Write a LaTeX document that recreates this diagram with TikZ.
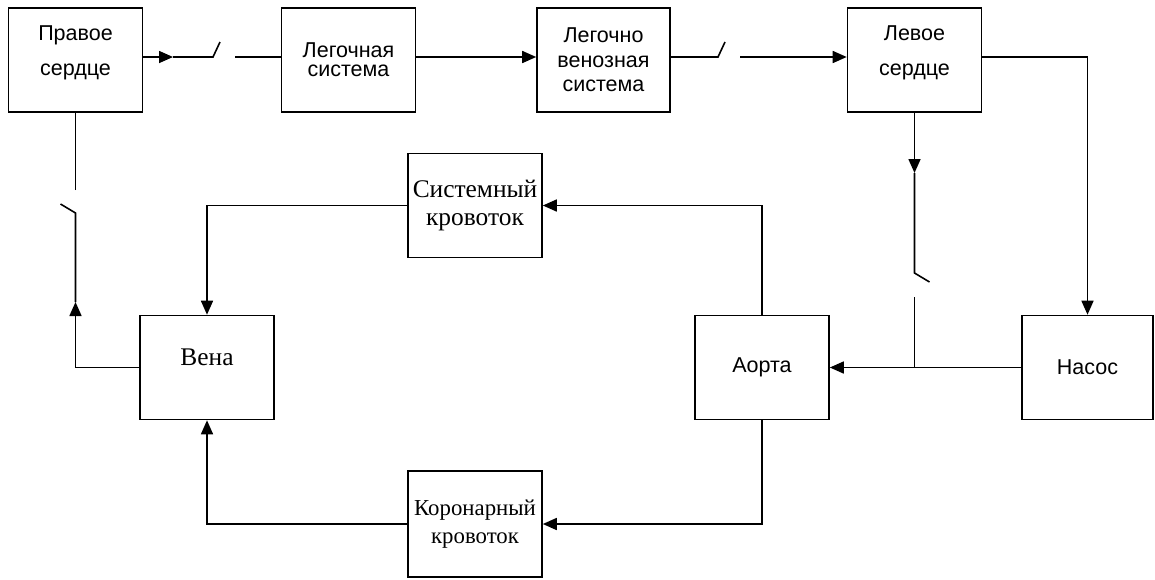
\documentclass[tikz,border=0pt]{standalone}
\usepackage{fontspec}
\setmainfont{Liberation Serif}
\newfontfamily\arialf{Liberation Sans}
\usetikzlibrary{arrows.meta}

\tikzset{
  block/.style={draw, line width=0.8pt, minimum width=67pt, minimum height=52pt,
    inner sep=1pt, align=center},
  sanstext/.style={font=\arialf\fontsize{10.75}{12.5}\selectfont},
  seriftext/.style={font=\fontsize{12.7}{14}\selectfont},
  flow/.style={-{Triangle[length=7pt,width=6pt]}},
  wire/.style={line width=0.8pt}
}

\begin{document}
\begin{tikzpicture}[x=0.5pt,y=-0.5pt]
  \useasboundingbox (0,0) rectangle (1155,579);

  \node[block,sanstext] (rh) at (75.5,60) {Правое\\[5pt]сердце\\[-3pt]\mbox{}};
  \node[block,sanstext,font=\arialf\fontsize{10.75}{9.5}\selectfont] (lung) at (348.5,60) {Легочная\\система};
  \node[block,sanstext,minimum width=66.5pt,font=\arialf\fontsize{10.75}{12.25}\selectfont] (pv) at (603.5,60) {Легочно\\венозная\\система};
  \node[block,sanstext] (lh) at (914.5,60) {Левое\\[5pt]сердце\\[-3pt]\mbox{}};

  \node[block,seriftext] (sys) at (475,205.5) {Системный\\кровоток};
  \node[block,seriftext] (vein) at (207,367.5) {Вена\\[-4pt]\mbox{}};
  \node[block,sanstext] (aorta) at (762,367.5) {Аорта};
  \node[block,sanstext,minimum width=65.5pt] (pump) at (1087.5,367.5) {Насос};
  \node[block,seriftext,minimum height=53pt,font=\fontsize{11.4}{14}\selectfont] (cor) at (475,524) {Коронарный\\кровоток};

  % clapans
  \coordinate (k1a) at (173,57);
  \coordinate (k1b) at (213,57);
  \coordinate (k1c) at (220,42);
  \coordinate (k1d) at (235,57);
  \coordinate (k2a) at (718,57);
  \coordinate (k2b) at (725,42);
  \coordinate (k2c) at (740,57);
  \coordinate (k3a) at (914.5,173);
  \coordinate (k3b) at (914.5,273);
  \coordinate (k3c) at (929.5,282);
  \coordinate (k3d) at (914.5,297);
  \coordinate (k3e) at (914.5,367.5);
  \coordinate (k4a) at (75.5,302);
  \coordinate (k4b) at (75.5,213);
  \coordinate (k4c) at (60.5,204);
  \coordinate (k4d) at (75.5,190);

  \draw[wire,flow] ([yshift=1.5pt]rh.east) -- (k1a);
  \draw[wire] (k1a) -- (k1b) -- (k1c);
  \draw[wire] (k1d) -- ([yshift=1.5pt]lung.west);
  \draw[wire,flow] ([yshift=1.5pt]lung.east) -- ([yshift=1.5pt]pv.west);
  \draw[wire] ([yshift=1.5pt]pv.east) -- (k2a) -- (k2b);
  \draw[wire,flow] (k2c) -- ([yshift=1.5pt]lh.west);
  \draw[wire,flow] ([yshift=1.5pt]lh.east) -| (pump.north);

  \draw[wire,flow] (lh.south) -- (k3a);
  \draw[wire] (k3a) -- (k3b) -- (k3c);
  \draw[wire] (k3d) -- (k3e);
  \draw[wire,flow] (pump.west) -- (aorta.east);

  \draw[wire,flow] (aorta.north) |- (sys.east);
  \draw[wire,flow] (sys.west) -| (vein.north);
  \draw[wire,flow] (aorta.south) |- (cor.east);
  \draw[wire,flow] (cor.west) -| (vein.south);

  \draw[wire,flow] (vein.west) -| (k4a);
  \draw[wire] (k4a) -- (k4b) -- (k4c);
  \draw[wire] (k4d) -- (rh.south);
\end{tikzpicture}
\end{document}
